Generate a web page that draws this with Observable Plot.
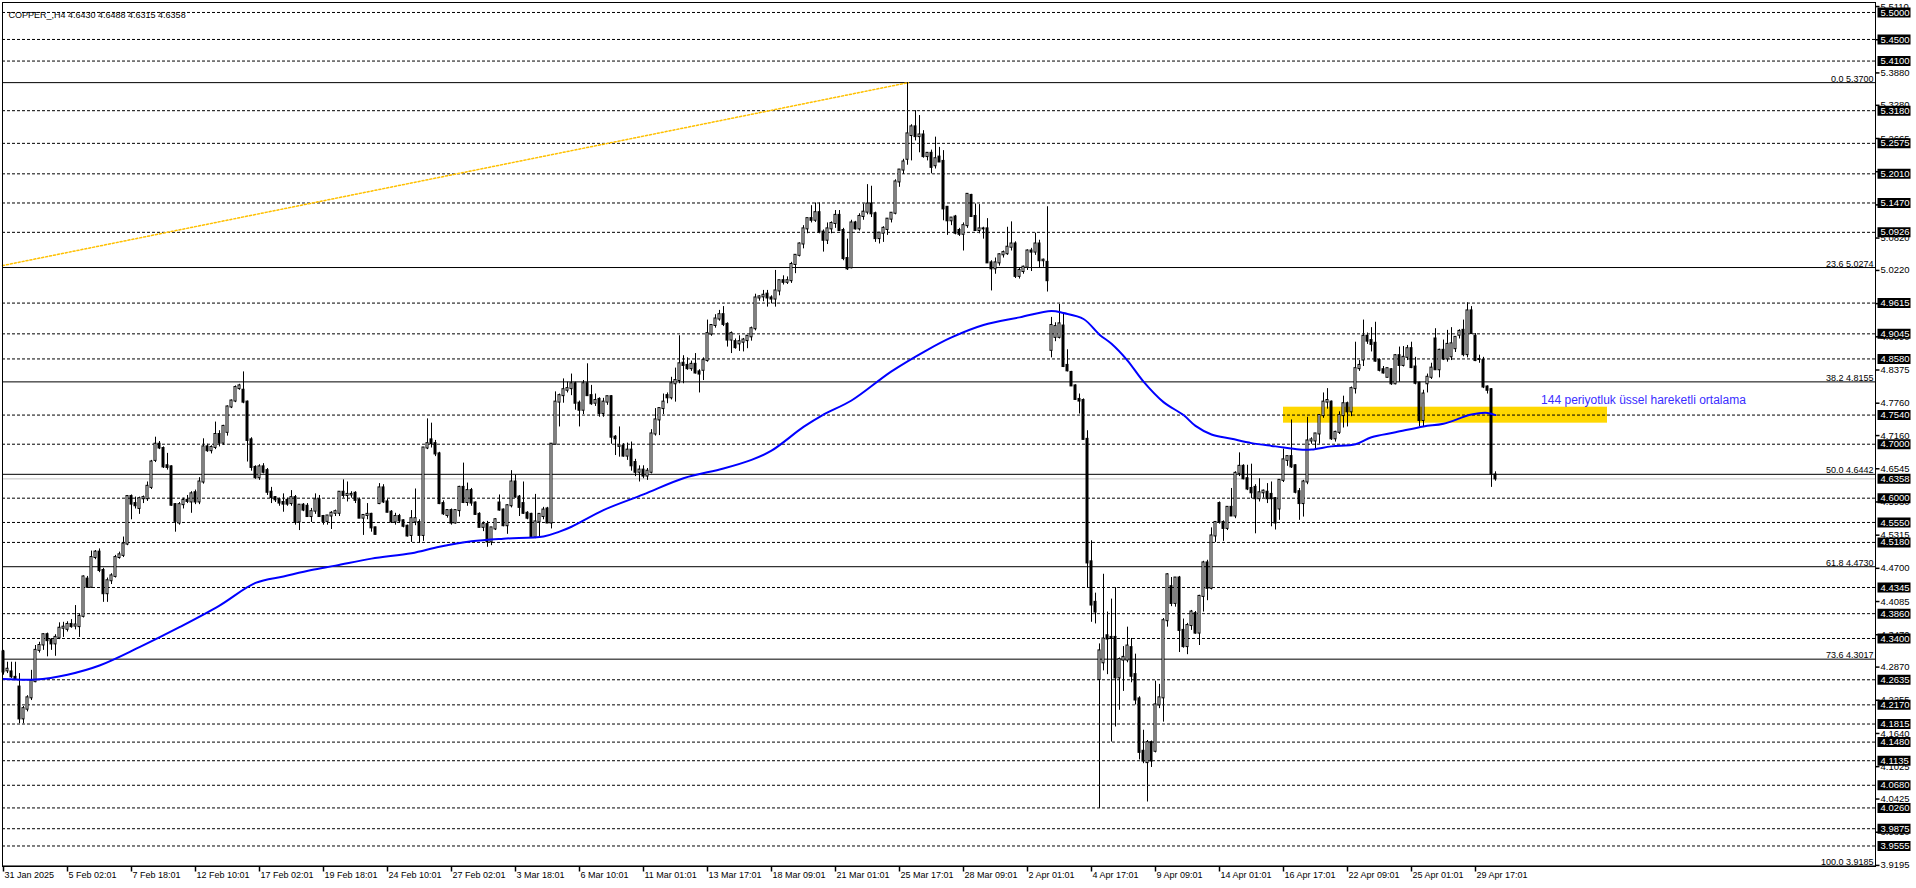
<!DOCTYPE html>
<html>
<head>
<meta charset="utf-8">
<script src="https://cdn.jsdelivr.net/npm/d3@7"></script>
<script src="https://cdn.jsdelivr.net/npm/@observablehq/plot@0.6"></script>
<style>
  html, body { margin: 0; padding: 0; background: #fff; }
  svg { display: block; }
</style>
</head>
<body>
<script>
// ---- H4 candles [open, high, low, close], 31 Jan 2025 -> 30 Apr 2025 ----
const barsJanFeb = [
  [4.315,4.318,4.272,4.278],[4.280,4.296,4.275,4.283],[4.278,4.296,4.266,4.269],[4.268,4.296,4.262,4.265],[4.250,4.275,4.182,4.191],
  [4.191,4.214,4.182,4.210],[4.209,4.234,4.204,4.230],[4.230,4.281,4.225,4.261],[4.260,4.327,4.258,4.318],[4.318,4.333,4.313,4.327],
  [4.328,4.349,4.318,4.347],[4.347,4.350,4.306,4.336],[4.337,4.340,4.318,4.330],[4.330,4.347,4.307,4.342],[4.341,4.369,4.338,4.359],
  [4.359,4.370,4.342,4.361],[4.357,4.371,4.352,4.366],[4.366,4.375,4.359,4.362],[4.363,4.401,4.356,4.365],[4.362,4.385,4.342,4.381],
  [4.381,4.456,4.378,4.454],[4.450,4.455,4.433,4.435],[4.435,4.502,4.433,4.490],[4.490,4.503,4.486,4.500],[4.500,4.506,4.462,4.466],
  [4.466,4.470,4.407,4.423],[4.423,4.452,4.407,4.447],[4.447,4.460,4.440,4.456],[4.455,4.494,4.452,4.490],[4.490,4.500,4.487,4.495],
  [4.494,4.528,4.490,4.515],[4.515,4.605,4.512,4.603],[4.603,4.606,4.560,4.589],[4.590,4.602,4.580,4.586],[4.581,4.602,4.570,4.599],
  [4.599,4.604,4.590,4.601],[4.599,4.630,4.594,4.622],[4.620,4.670,4.616,4.667],[4.670,4.713,4.666,4.700],[4.700,4.705,4.690,4.693],
  [4.692,4.695,4.655,4.658],[4.660,4.683,4.652,4.657],[4.658,4.660,4.585,4.587],[4.588,4.590,4.537,4.557],[4.554,4.592,4.550,4.588],
  [4.588,4.600,4.580,4.596],[4.596,4.605,4.590,4.594],[4.593,4.612,4.572,4.608],[4.610,4.615,4.588,4.593],[4.593,4.638,4.588,4.630],
  [4.630,4.710,4.626,4.695],[4.695,4.700,4.685,4.688],[4.688,4.697,4.682,4.694],[4.694,4.741,4.690,4.718],[4.718,4.725,4.695,4.702],
  [4.702,4.735,4.698,4.733],[4.722,4.771,4.715,4.769],[4.769,4.782,4.766,4.780],[4.780,4.808,4.777,4.805],[4.803,4.811,4.800,4.808],
  [4.800,4.834,4.775,4.778],[4.778,4.780,4.667,4.707],[4.708,4.712,4.650,4.657],[4.657,4.660,4.635,4.638],[4.638,4.662,4.633,4.658],
  [4.658,4.664,4.645,4.648],[4.651,4.655,4.605,4.611],[4.611,4.620,4.590,4.601],[4.601,4.603,4.592,4.597],[4.597,4.600,4.585,4.591],
  [4.592,4.608,4.574,4.589],[4.596,4.600,4.585,4.589],[4.590,4.614,4.585,4.601],[4.601,4.605,4.550,4.555],[4.556,4.587,4.540,4.587],
  [4.587,4.590,4.575,4.578],[4.585,4.590,4.565,4.566],[4.566,4.581,4.555,4.575],[4.576,4.608,4.570,4.597],[4.597,4.605,4.565,4.566],
  [4.566,4.568,4.550,4.557],[4.557,4.568,4.550,4.567],[4.567,4.575,4.542,4.572],[4.572,4.578,4.566,4.575],[4.572,4.612,4.566,4.611],
  [4.611,4.634,4.600,4.605],[4.605,4.630,4.593,4.607],[4.606,4.612,4.600,4.607],[4.609,4.612,4.590,4.596],[4.596,4.600,4.563,4.563],
  [4.563,4.568,4.531,4.568],[4.568,4.590,4.560,4.570],[4.570,4.572,4.537,4.545],[4.545,4.546,4.532,4.533],[4.590,4.627,4.588,4.619],
  [4.619,4.625,4.590,4.593],[4.593,4.598,4.573,4.574],[4.574,4.577,4.553,4.556],[4.556,4.572,4.550,4.566],[4.566,4.570,4.553,4.558],
  [4.558,4.560,4.545,4.548],[4.548,4.550,4.528,4.530],[4.531,4.577,4.518,4.562],[4.556,4.617,4.549,4.562],[4.555,4.560,4.516,4.531],
  [4.531,4.694,4.520,4.693],[4.693,4.747,4.690,4.701],[4.708,4.739,4.693,4.701],[4.701,4.707,4.677,4.682],[4.682,4.685,4.588,4.590],
  [4.590,4.595,4.568,4.571],[4.568,4.577,4.563,4.577],[4.577,4.580,4.550,4.554],[4.554,4.578,4.552,4.577],[4.577,4.622,4.565,4.620],
  [4.620,4.665,4.590,4.592],[4.592,4.628,4.585,4.614],[4.614,4.618,4.585,4.591],[4.591,4.593,4.568,4.570],[4.570,4.573,4.545,4.546],
  [4.546,4.556,4.538,4.551],[4.551,4.557,4.509,4.519],[4.519,4.545,4.512,4.545],[4.543,4.562,4.540,4.560]
];
const barsMar = [
  [4.591,4.606,4.576,4.578],[4.578,4.580,4.547,4.549],[4.549,4.588,4.533,4.586],[4.586,4.651,4.582,4.630],[4.630,4.643,4.600,4.602],
  [4.602,4.605,4.566,4.583],[4.590,4.630,4.570,4.572],[4.572,4.575,4.560,4.563],[4.570,4.572,4.527,4.528],[4.528,4.607,4.525,4.556],
  [4.556,4.570,4.527,4.570],[4.566,4.583,4.560,4.578],[4.580,4.583,4.553,4.554],[4.554,4.700,4.543,4.700],[4.700,4.797,4.699,4.778],
  [4.778,4.793,4.732,4.790],[4.790,4.821,4.776,4.801],[4.800,4.815,4.795,4.803],[4.803,4.830,4.790,4.812],[4.812,4.815,4.763,4.776],
  [4.776,4.780,4.732,4.763],[4.763,4.818,4.755,4.812],[4.812,4.849,4.800,4.790],[4.790,4.809,4.772,4.775],[4.776,4.793,4.770,4.781],
  [4.783,4.786,4.750,4.757],[4.757,4.785,4.750,4.778],[4.778,4.789,4.772,4.788],[4.788,4.790,4.700,4.713],[4.713,4.716,4.679,4.710],
  [4.696,4.732,4.676,4.697],[4.696,4.701,4.676,4.678],[4.678,4.702,4.670,4.689],[4.689,4.704,4.650,4.660],[4.666,4.672,4.640,4.648],
  [4.648,4.660,4.630,4.652],[4.652,4.660,4.636,4.641],[4.641,4.655,4.633,4.650],[4.648,4.727,4.645,4.719],[4.719,4.766,4.715,4.745],
  [4.745,4.765,4.716,4.766],[4.766,4.793,4.755,4.778],[4.790,4.795,4.775,4.786],[4.786,4.824,4.782,4.812],[4.812,4.841,4.778,4.818],
  [4.818,4.901,4.812,4.849],[4.850,4.864,4.812,4.846],[4.846,4.860,4.837,4.840],[4.840,4.854,4.835,4.848],[4.848,4.868,4.830,4.832],
  [4.834,4.838,4.795,4.830],[4.837,4.860,4.818,4.855],[4.855,4.930,4.852,4.905],[4.904,4.921,4.900,4.920],[4.920,4.940,4.915,4.932],
  [4.932,4.948,4.928,4.940],[4.940,4.955,4.918,4.922],[4.922,4.925,4.880,4.893],[4.893,4.908,4.868,4.905],[4.890,4.895,4.876,4.879],
  [4.886,4.901,4.872,4.890],[4.889,4.896,4.871,4.893],[4.892,4.900,4.877,4.900],[4.899,4.917,4.891,4.914],[4.914,4.978,4.910,4.971],
  [4.971,4.975,4.965,4.973],[4.973,4.985,4.964,4.976],[4.978,4.985,4.954,4.971],[4.971,4.975,4.960,4.969],[4.969,5.022,4.954,4.984],
  [4.984,5.003,4.975,5.003],[5.003,5.012,4.995,5.000],[5.000,5.010,4.996,5.003],[5.003,5.037,4.998,5.033],[5.033,5.050,5.016,5.050],
  [5.050,5.073,5.047,5.071],[5.071,5.105,5.062,5.099],[5.099,5.118,5.090,5.118],[5.118,5.142,5.110,5.115],[5.115,5.147,5.111,5.129],
  [5.129,5.147,5.090,5.093],[5.093,5.097,5.056,5.078],[5.078,5.110,5.070,5.099],[5.099,5.112,5.090,5.109],[5.109,5.133,5.100,5.124],
  [5.124,5.133,5.095,5.096],[5.096,5.100,5.040,5.044],[5.044,5.080,5.022,5.025],[5.027,5.115,5.025,5.110],[5.110,5.113,5.097,5.099],
  [5.099,5.127,5.095,5.122],[5.122,5.145,5.115,5.130],[5.130,5.181,5.125,5.145],[5.145,5.178,5.120,5.127],[5.127,5.130,5.074,5.081],
  [5.081,5.092,5.071,5.091],[5.091,5.103,5.074,5.100],[5.098,5.118,5.087,5.117],[5.117,5.128,5.110,5.128],[5.128,5.190,5.125,5.186],
  [5.186,5.208,5.176,5.208],[5.208,5.228,5.200,5.223],[5.228,5.370,5.217,5.275],[5.272,5.292,5.225,5.288],[5.288,5.318,5.262,5.270],
  [5.270,5.309,5.240,5.273],[5.273,5.281,5.230,5.233],[5.233,5.240,5.225,5.239],[5.239,5.245,5.201,5.213],[5.216,5.269,5.210,5.229],
  [5.232,5.250,5.222,5.223],[5.224,5.244,5.114,5.136],[5.139,5.140,5.087,5.114],[5.114,5.120,5.105,5.119],[5.121,5.124,5.088,5.091],
  [5.096,5.100,5.085,5.089],[5.089,5.110,5.058,5.105],[5.105,5.164,5.100,5.163],[5.161,5.163,5.120,5.122],[5.122,5.145,5.095,5.096],
  [5.096,5.144,5.090,5.099],[5.099,5.102,5.080,5.099],[5.099,5.118,5.036,5.036],[5.036,5.040,4.984,5.025],[5.025,5.045,5.015,5.036],
  [5.036,5.053,5.030,5.051]
];
const barsApr = [
  [5.051,5.058,5.045,5.055],[5.053,5.102,5.050,5.065],[5.065,5.112,5.058,5.071],[5.071,5.075,5.007,5.011],[5.011,5.027,5.006,5.022],
  [5.020,5.030,5.015,5.028],[5.028,5.060,5.022,5.058],[5.058,5.063,5.020,5.056],[5.056,5.091,5.050,5.071],[5.071,5.078,5.026,5.040],
  [5.040,5.043,5.028,5.041],[5.037,5.140,4.982,5.003],[4.874,4.935,4.860,4.920],[4.898,4.925,4.890,4.918],[4.898,4.959,4.895,4.923],
  [4.919,4.941,4.842,4.844],[4.846,4.875,4.834,4.836],[4.833,4.835,4.807,4.808],[4.808,4.810,4.781,4.783],[4.783,4.793,4.756,4.780],
  [4.781,4.784,4.708,4.709],[4.709,4.725,4.433,4.480],[4.482,4.521,4.370,4.402],[4.407,4.424,4.367,4.389],[4.264,4.330,4.025,4.317],
  [4.295,4.459,4.280,4.339],[4.345,4.389,4.273,4.339],[4.342,4.413,4.148,4.340],[4.342,4.434,4.176,4.267],[4.267,4.304,4.207,4.301],
  [4.300,4.325,4.242,4.305],[4.300,4.361,4.295,4.326],[4.323,4.340,4.258,4.270],[4.273,4.311,4.217,4.226],[4.228,4.232,4.115,4.129],
  [4.131,4.170,4.108,4.113],[4.110,4.151,4.037,4.147],[4.147,4.150,4.101,4.113],[4.131,4.261,4.128,4.217],[4.217,4.255,4.210,4.230],
  [4.230,4.377,4.185,4.373],[4.373,4.460,4.361,4.458],[4.436,4.453,4.399,4.405],[4.405,4.452,4.398,4.452],[4.452,4.455,4.314,4.355],
  [4.355,4.376,4.322,4.325],[4.325,4.368,4.310,4.364],[4.364,4.392,4.355,4.389],[4.386,4.390,4.348,4.350],[4.350,4.420,4.327,4.418],
  [4.418,4.483,4.389,4.480],[4.480,4.485,4.410,4.433],[4.433,4.545,4.430,4.530],[4.530,4.556,4.518,4.555],[4.590,4.593,4.552,4.555],
  [4.555,4.558,4.520,4.544],[4.544,4.584,4.540,4.583],[4.583,4.618,4.570,4.567],[4.567,4.649,4.562,4.646],[4.646,4.684,4.640,4.659],
  [4.659,4.662,4.634,4.636],[4.636,4.661,4.614,4.617],[4.618,4.663,4.599,4.610],[4.620,4.625,4.534,4.599],[4.599,4.636,4.593,4.610],
  [4.610,4.615,4.600,4.613],[4.611,4.627,4.590,4.599],[4.607,4.630,4.547,4.599],[4.599,4.601,4.541,4.554],[4.580,4.633,4.559,4.633],
  [4.633,4.691,4.629,4.671],[4.670,4.677,4.659,4.677],[4.677,4.745,4.655,4.658],[4.660,4.662,4.608,4.611],[4.612,4.618,4.559,4.590],
  [4.590,4.633,4.565,4.630],[4.630,4.750,4.625,4.706],[4.706,4.712,4.700,4.708],[4.706,4.720,4.691,4.719],[4.719,4.755,4.700,4.753],
  [4.753,4.795,4.748,4.778],[4.778,4.803,4.765,4.781],[4.778,4.780,4.707,4.710],[4.710,4.724,4.704,4.722],[4.722,4.760,4.718,4.753],
  [4.753,4.789,4.730,4.775],[4.775,4.778,4.732,4.760],[4.760,4.806,4.751,4.803],[4.803,4.889,4.793,4.840],[4.840,4.855,4.835,4.846],
  [4.856,4.930,4.844,4.900],[4.900,4.906,4.885,4.891],[4.892,4.916,4.871,4.885],[4.887,4.926,4.852,4.854],[4.855,4.858,4.834,4.837],
  [4.838,4.844,4.830,4.832],[4.824,4.840,4.823,4.840],[4.838,4.840,4.809,4.812],[4.812,4.866,4.810,4.864],[4.864,4.880,4.815,4.846],
  [4.846,4.881,4.843,4.861],[4.861,4.883,4.855,4.877],[4.877,4.889,4.840,4.842],[4.843,4.861,4.810,4.813],[4.813,4.815,4.732,4.744],
  [4.744,4.800,4.732,4.793],[4.812,4.830,4.795,4.824],[4.824,4.850,4.820,4.841],[4.895,4.914,4.837,4.838],[4.838,4.876,4.823,4.874],
  [4.874,4.893,4.855,4.858],[4.858,4.911,4.852,4.885],[4.862,4.916,4.855,4.886],[4.877,4.899,4.870,4.898],[4.902,4.912,4.895,4.909],
  [4.911,4.930,4.862,4.866],[4.866,4.962,4.860,4.947],[4.947,4.955,4.905,4.905],[4.900,4.905,4.853,4.855],[4.857,4.865,4.850,4.857],
  [4.855,4.861,4.803,4.806],[4.806,4.808,4.793,4.800],[4.801,4.803,4.620,4.645],[4.6430,4.6488,4.6315,4.6358]
];

// 144-period EMA, read at bar indices
const emaBars = [0,8,16,24,34,44,54,63,70,77,83,92,102,109,117,125,135,139,142,150,160,170,180,187,192,200,205,212,222,231,237,245,254,262,265,270,274,277,281,285,290,295,298,302,307,312,318,324,327,332,338,342,348,355,360,367,371,373];
const emaValues = [4.265,4.264,4.273,4.290,4.324,4.361,4.401,4.443,4.455,4.467,4.475,4.488,4.498,4.510,4.520,4.525,4.529,4.538,4.547,4.578,4.607,4.637,4.655,4.671,4.688,4.732,4.755,4.781,4.835,4.875,4.898,4.921,4.935,4.947,4.943,4.932,4.903,4.886,4.855,4.816,4.778,4.754,4.734,4.718,4.710,4.702,4.696,4.690,4.690,4.696,4.700,4.713,4.722,4.733,4.738,4.755,4.758,4.754];

// Horizontal levels (dashed) and current price
const dashedLevels = [5.5000,5.4500,5.4100,5.3180,5.2575,5.2010,5.1470,5.0926,4.9615,4.9045,4.8580,4.7540,4.7000,4.6000,4.5550,4.5180,4.4345,4.3860,4.3400,4.2635,4.2170,4.1815,4.1480,4.1135,4.0680,4.0260,3.9875,3.9555];
const lastPrice = 4.6358;

// Fibonacci retracement
const fibRatios = [0.0, 23.6, 38.2, 50.0, 61.8, 73.6, 100.0];
const fibPrices = [5.3700, 5.0274, 4.8155, 4.6442, 4.4730, 4.3017, 3.9185];
const fibTrendBars = [-0.25, 226.2];
const fibTrendPrices = [5.031, 5.370];

// Price axis tick labels
const priceTicks = ["5.5110","5.4495","5.3880","5.3280","5.2665","5.2050","5.1435","5.0820","5.0220","4.9605","4.8990","4.8375","4.7760","4.7160","4.6545","4.5930","4.5315","4.4700","4.4085","4.3470","4.2870","4.2255","4.1640","4.1025","4.0425","3.9810","3.9195"];

// Time axis
const timeTickBars = [0,16,32,48,64,80,96,112,128,144,160,176,192,208,224,240,256,272,288,304,320,336,352,368];
const timeTickLabels = ["31 Jan 2025","5 Feb 02:01","7 Feb 18:01","12 Feb 10:01","17 Feb 02:01","19 Feb 18:01","24 Feb 10:01","27 Feb 02:01","3 Mar 18:01","6 Mar 10:01","11 Mar 01:01","13 Mar 17:01","18 Mar 09:01","21 Mar 01:01","25 Mar 17:01","28 Mar 09:01","2 Apr 01:01","4 Apr 17:01","9 Apr 09:01","14 Apr 01:01","16 Apr 17:01","22 Apr 09:01","25 Apr 01:01","29 Apr 17:01"];

// Highlight zone + annotation
const zoneBars = [320, 401];
const zonePrices = [4.7390, 4.7686];
const annotationText = "144 periyotluk üssel hareketli ortalama";
const annotationBar = 384.4;
const annotationPrice = 4.781;

const titleText = "COPPER_,H4 4.6430 4.6488 4.6315 4.6358";

// ---- build tables ----
const candles = [...barsJanFeb, ...barsMar, ...barsApr].map((d, i) => ({i, o: d[0], h: d[1], l: d[2], c: d[3]}));
const ema = emaBars.map((b, k) => ({i: b, v: emaValues[k]}));
const fibs = fibRatios.map((r, k) => ({r, p: fibPrices[k]}));
const fibTrend = fibTrendBars.map((b, k) => ({i: b, p: fibTrendPrices[k]}));
const timeTicks = timeTickBars.map((b, k) => ({i: b, label: timeTickLabels[k]}));
const boxLevels = [...dashedLevels, lastPrice];

const boxSymbol = {draw(ctx) { ctx.rect(0, -5, 33, 10); }};
const hTick = {draw(ctx) { ctx.moveTo(0, 0); ctx.lineTo(4, 0); }};
const vTick = {draw(ctx) { ctx.moveTo(0, 0); ctx.lineTo(0, 5); }};

const font = "'Liberation Sans', Arial, sans-serif";

const chart = Plot.plot({
  width: 1916,
  height: 888,
  marginLeft: 2,
  marginRight: 41,
  marginTop: 2,
  marginBottom: 22,
  x: {domain: [-0.25, 468], axis: null},
  y: {domain: [3.9175, 5.5185], axis: null},
  color: {type: "identity"},
  style: {background: "white", fontFamily: font, fontSize: "9px", color: "black"},
  marks: [
    Plot.rect([0], {x1: () => zoneBars[0], x2: () => zoneBars[1], y1: () => zonePrices[0], y2: () => zonePrices[1], fill: "#FFD700"}),
    Plot.ruleY(dashedLevels, {stroke: "black", strokeDasharray: "3,2"}),
    Plot.ruleY(fibs, {y: "p", stroke: "black"}),
    Plot.ruleY([lastPrice], {stroke: "#c0c0c0"}),
    Plot.line(fibTrend, {x: "i", y: "p", stroke: "#FFC000", strokeDasharray: "2,2"}),
    Plot.ruleX(candles, {x: "i", y1: d => Math.min(d.l, d.o, d.c), y2: d => Math.max(d.h, d.o, d.c), stroke: "black"}),
    Plot.rect(candles, {
      x1: d => d.i - 0.25, x2: d => d.i + 0.25, y1: "o", y2: "c",
      fill: d => d.c >= d.o ? "white" : "black", stroke: "black", strokeWidth: 1,
      insetTop: -0.5, insetBottom: -0.5
    }),
    Plot.line(ema, {x: "i", y: "v", stroke: "#0000ff", strokeWidth: 2, curve: "catmull-rom"}),
    Plot.frame({stroke: "black"}),
    // price axis
    Plot.dot(priceTicks, {y: d => +d, frameAnchor: "right", symbol: hTick, stroke: "black", fill: "none"}),
    Plot.text(priceTicks, {y: d => +d, text: d => d, frameAnchor: "right", dx: 5, textAnchor: "start", fill: "black", fontSize: 9.5}),
    Plot.dot(boxLevels, {y: d => d, frameAnchor: "right", dx: 2, symbol: boxSymbol, fill: "black", stroke: "none"}),
    Plot.text(boxLevels, {y: d => d, text: d => d.toFixed(4), frameAnchor: "right", dx: 5, textAnchor: "start", fill: "white", fontSize: 9.5}),
    // fib labels
    Plot.text(fibs, {y: "p", text: d => `${d.r.toFixed(1)} ${d.p.toFixed(4)}`, frameAnchor: "right", dx: -2, dy: -1, lineAnchor: "bottom", textAnchor: "end", fill: "black", fontSize: 9}),
    // time axis
    Plot.dot(timeTicks, {x: "i", frameAnchor: "bottom", symbol: vTick, stroke: "black", fill: "none"}),
    Plot.text(timeTicks, {x: "i", text: "label", frameAnchor: "bottom", dx: 1, dy: 11, textAnchor: "start", fill: "black", fontSize: 9}),
    // title & annotation
    Plot.text([titleText], {text: d => d, frameAnchor: "top-left", dx: 6, dy: 9, textAnchor: "start", fill: "black", fontSize: 9}),
    Plot.text([annotationText], {x: () => annotationBar, y: () => annotationPrice, text: d => d, textAnchor: "start", fill: "#3a2dff", fontSize: 12})
  ]
});
document.body.append(chart);
</script>
</body>
</html>
